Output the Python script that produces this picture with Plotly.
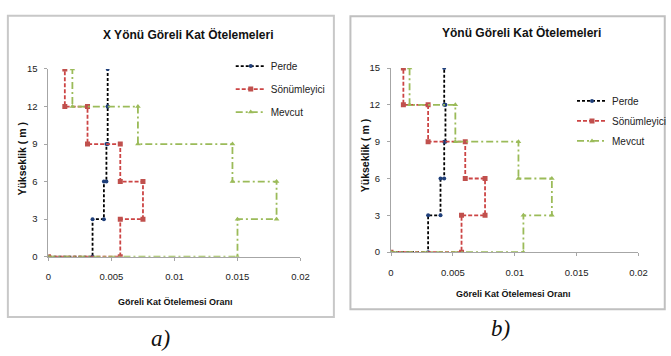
import plotly.graph_objects as go

# ---- data ----
heights = [0, 3, 6, 9, 12, 15]
x_ticks = [0, 0.005, 0.01, 0.015, 0.02]
x_tick_labels = ["0", "0.005", "0.01", "0.015", "0.02"]
y_ticks = [0, 3, 6, 9, 12, 15]

series_names = ["Perde", "Sönümleyici", "Mevcut"]

# story drift ratios, story 1 (0-3 m) ... story 5 (12-15 m)
a_perde = [0.0035, 0.0044, 0.0046, 0.0047, 0.0047]
a_sonum = [0.0057, 0.0075, 0.0057, 0.0031, 0.0013]
a_mevcut = [0.0150, 0.0181, 0.0146, 0.0071, 0.0019]

b_perde = [0.0030, 0.0040, 0.0043, 0.0044, 0.0043]
b_sonum = [0.0057, 0.0076, 0.0060, 0.0030, 0.0010]
b_mevcut = [0.0107, 0.0130, 0.0103, 0.0052, 0.0015]

title_a = "X Yönü Göreli Kat Ötelemeleri"
title_b = "Yönü Göreli Kat Ötelemeleri"
x_title = "Göreli Kat Ötelemesi Oranı"
y_title = "Yükseklik ( m )"


def step_path(drifts, h):
    xs, ys = [0], [h[0]]
    for i, d in enumerate(drifts):
        xs += [d, d]
        ys += [h[i], h[i + 1]]
    return xs, ys


W, H = 671, 356
def px(x):
    return x / W
def py(y):
    return 1 - y / H

styles = [
    dict(line=dict(color="#000000", width=1.8, dash="3px,2px"),
         marker=dict(symbol="circle", size=4, color="#1f3f7a")),
    dict(line=dict(color="#cc4444", width=1.8, dash="4px,2px"),
         marker=dict(symbol="square", size=5, color="#c0504d")),
    dict(line=dict(color="#9bbb59", width=1.8, dash="7px,3px,2px,3px"),
         marker=dict(symbol="triangle-up", size=5, color="#9bbb59")),
]

FONT = "Liberation Sans, Arial"

fig = go.Figure()
for panel, (data, xa, ya, leg) in enumerate([
        ([a_perde, a_sonum, a_mevcut], "x", "y", "legend"),
        ([b_perde, b_sonum, b_mevcut], "x2", "y2", "legend2")]):
    for name, d, st in zip(series_names, data, styles):
        xs, ys = step_path(d, heights)
        fig.add_trace(go.Scatter(
            x=xs, y=ys, mode="lines+markers", name=name,
            xaxis=xa, yaxis=ya, legend=leg, legendgroup=f"{leg}{name}",
            line=st["line"], marker=st["marker"]))

axis_common = dict(showgrid=False, zeroline=False, showline=True,
                   linecolor="#a6a6a6", linewidth=1, ticks="outside",
                   ticklen=3, tickcolor="#a6a6a6",
                   tickfont=dict(family=FONT, size=9.5, color="#222"))

fig.update_layout(
    width=W, height=H, margin=dict(l=0, r=0, t=0, b=0),
    paper_bgcolor="white", plot_bgcolor="white",
    showlegend=True,
    xaxis=dict(domain=[px(46.7), px(305.7)], range=[0, 0.02], anchor="y",
               tickvals=x_ticks, ticktext=x_tick_labels,
               ticklabelstandoff=8, **axis_common),
    yaxis=dict(domain=[py(258.7), py(65)], range=[0, 15], anchor="x",
               tickvals=y_ticks, ticklabelstandoff=5, **axis_common),
    xaxis2=dict(domain=[px(398.7), px(653)], range=[0, 0.02], anchor="y2",
                tickvals=x_ticks, ticktext=x_tick_labels,
                ticklabelstandoff=8, **axis_common),
    yaxis2=dict(domain=[py(254), py(64)], range=[0, 15], anchor="x2",
                tickvals=y_ticks, ticklabelstandoff=5, **axis_common),
    legend=dict(x=px(234), y=py(47), xanchor="left", yanchor="top",
                bgcolor="rgba(0,0,0,0)", tracegroupgap=4,
                font=dict(family=FONT, size=10, color="#222")),
    legend2=dict(x=px(585), y=py(83), xanchor="left", yanchor="top",
                 bgcolor="rgba(0,0,0,0)", tracegroupgap=1,
                 font=dict(family=FONT, size=10, color="#222")),
)

# panel boxes
fig.add_shape(type="rect", xref="paper", yref="paper",
              x0=px(5), x1=px(340), y0=py(321), y1=py(10),
              line=dict(color="#c8c8c8", width=2), layer="below")
fig.add_shape(type="rect", xref="paper", yref="paper",
              x0=px(357), x1=px(680), y0=py(313), y1=py(10.5),
              line=dict(color="#c0c0c0", width=2), layer="below")

def note(text, x, y, size, family=FONT, angle=0):
    fig.add_annotation(text=text, x=px(x), y=py(y), xref="paper",
                       yref="paper", showarrow=False, xanchor="center",
                       yanchor="middle", textangle=angle,
                       font=dict(family=family, size=size, color="#111"))

note(f"<b>{title_a}</b>", 191, 29, 12)
note(f"<b>{title_b}</b>", 533, 27, 12)
for x, y in [(177, 305), (525, 297)]:
    note(f"<b>{x_title}</b>", x, y, 9)
for x, y in [(20, 157), (372, 154)]:
    note(f"<b>{y_title}</b>", x, y, 10.5, angle=-90)
for txt, x, y in [("a)", 162, 343), ("b)", 511, 333)]:
    note(f"<i>{txt}</i>", x, y, 23, family="Liberation Serif, Times New Roman")

fig.write_html("out.html", config={"displayModeBar": False},
               post_script="document.body.style.margin='0';"
                           "document.body.style.overflow='hidden';")
